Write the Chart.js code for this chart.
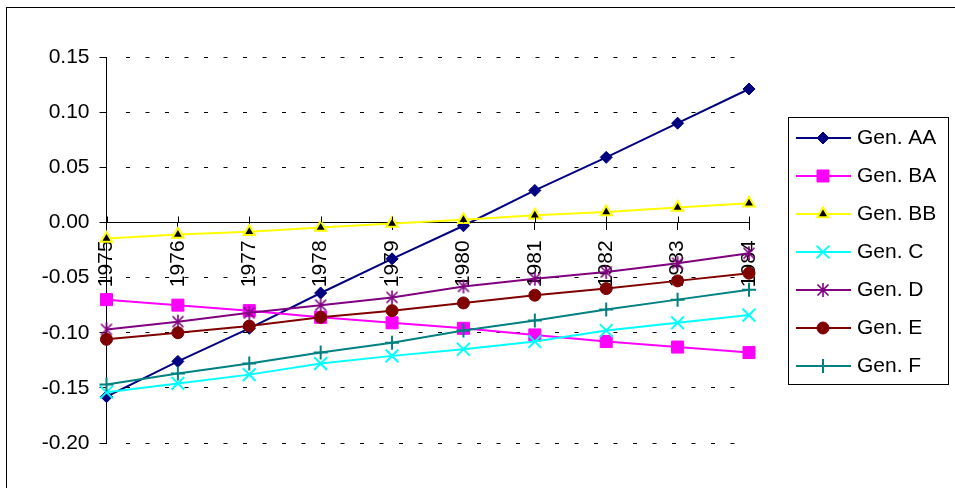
<!DOCTYPE html>
<html><head><meta charset="utf-8">
<script src="https://cdn.jsdelivr.net/npm/chart.js@4.4.1/dist/chart.umd.min.js"></script>
<style>html,body{margin:0;padding:0;background:#fff;overflow:hidden}#wrap{position:relative;width:955px;height:488px}</style>
</head><body><div id="wrap"><canvas id="c"></canvas></div>
<script>
const years = ['1975','1976','1977','1978','1979','1980','1981','1982','1983','1984'];
const seriesNames = ['Gen. AA','Gen. BA','Gen. BB','Gen. C','Gen. D','Gen. E','Gen. F'];
const genAA = [-0.158,-0.126,-0.096,-0.064,-0.033,-0.003,0.029,0.059,0.090,0.121];
const genBA = [-0.070,-0.075,-0.080,-0.086,-0.091,-0.096,-0.102,-0.108,-0.113,-0.118];
const genBB = [-0.0145,-0.011,-0.0085,-0.0045,-0.001,0.0025,0.0065,0.0095,0.0135,0.0175];
const genC  = [-0.154,-0.146,-0.138,-0.128,-0.121,-0.115,-0.108,-0.098,-0.091,-0.084];
const genD  = [-0.097,-0.090,-0.082,-0.075,-0.068,-0.058,-0.051,-0.045,-0.037,-0.028];
const genE  = [-0.106,-0.100,-0.094,-0.086,-0.080,-0.073,-0.066,-0.060,-0.053,-0.046];
const genF  = [-0.147,-0.137,-0.128,-0.118,-0.109,-0.098,-0.089,-0.079,-0.070,-0.061];
const yTickValues = [-0.20,-0.15,-0.10,-0.05,0.00,0.05,0.10,0.15];
const yTickLabels = ['-0.20','-0.15','-0.10','-0.05','0.00','0.05','0.10','0.15'];

const FONT = "'Liberation Sans', Arial, sans-serif";
const FS = 21;

function makeStar(color){
  const c=document.createElement('canvas'); c.width=16; c.height=16;
  const x=c.getContext('2d'); x.strokeStyle=color; x.lineWidth=1.6; x.lineCap='butt';
  x.beginPath();
  x.moveTo(2.5,2.5); x.lineTo(13.5,13.5);
  x.moveTo(13.5,2.5); x.lineTo(2.5,13.5);
  x.moveTo(8,1); x.lineTo(8,15);
  x.stroke(); return c;
}

const styles = [
  {color:'#000080', pointStyle:'rectRot', radius:6, bg:'#000080', bc:'#000080', bw:1},
  {color:'#FF00FF', pointStyle:'rect', radius:8.5, bg:'#FF00FF', bc:'#FF00FF', bw:1},
  {color:'#FFFF00', pointStyle:'triangle', radius:6.5, bg:'#000000', bc:'#FFFF00', bw:2},
  {color:'#00FFFF', pointStyle:'crossRot', radius:9, bg:'#00FFFF', bc:'#00FFFF', bw:2},
  {color:'#800080', pointStyle:makeStar('#800080'), radius:8, bg:'#800080', bc:'#800080', bw:1},
  {color:'#800000', pointStyle:'circle', radius:6, bg:'#800000', bc:'#800000', bw:1},
  {color:'#008080', pointStyle:'cross', radius:7, bg:'#008080', bc:'#008080', bw:2}
];
const seriesData = [genAA, genBA, genBB, genC, genD, genE, genF];

const datasets = seriesNames.map((name,i)=>({
  label:name, data:seriesData[i],
  borderColor:styles[i].color, borderWidth:2, backgroundColor:styles[i].bg,
  pointStyle:styles[i].pointStyle, pointRadius:styles[i].radius, pointHoverRadius:styles[i].radius,
  pointBackgroundColor:styles[i].bg, pointBorderColor:styles[i].bc, pointBorderWidth:styles[i].bw,
  tension:0, fill:false, clip:false, order: seriesNames.length - i
}));

const framePlugin = {
  id:'frame',
  beforeDraw(chart){
    const ctx=chart.ctx; ctx.save();
    ctx.fillStyle='#fff'; ctx.fillRect(0,0,chart.width,chart.height);
    ctx.strokeStyle='#000'; ctx.lineWidth=1;
    ctx.strokeRect(6.5,7.5,2000,2000);
    ctx.restore();
  },
  afterDraw(chart){
    const ctx=chart.ctx; const xs=chart.scales.x; const ys=chart.scales.y;
    const y0=Math.round(ys.getPixelForValue(0))+0.5;
    ctx.save(); ctx.strokeStyle='#000'; ctx.lineWidth=1;
    ctx.beginPath();
    for(let i=0;i<xs.ticks.length;i++){ const px=Math.round(xs.getPixelForTick(i))+0.5; ctx.moveTo(px,y0-6); ctx.lineTo(px,y0); }
    ctx.stroke();
    ctx.strokeStyle='#000'; ctx.lineWidth=1; ctx.strokeRect(788.5,117.5,160,267);
    chart.data.datasets.forEach((ds,i)=>{
      const y=138+i*38;
      ctx.strokeStyle=ds.borderColor; ctx.lineWidth=ds.borderWidth;
      ctx.beginPath(); ctx.moveTo(796,y); ctx.lineTo(851,y); ctx.stroke();
      ctx.fillStyle=ds.pointBackgroundColor; ctx.strokeStyle=ds.pointBorderColor; ctx.lineWidth=ds.pointBorderWidth;
      Chart.helpers.drawPoint(ctx,{pointStyle:ds.pointStyle,radius:ds.pointRadius,rotation:0,borderWidth:ds.pointBorderWidth},823,y);
      ctx.fillStyle='#000'; ctx.font=FS+'px '+FONT; ctx.textBaseline='middle'; ctx.textAlign='left';
      ctx.fillText(ds.label,857,y);
    });
    ctx.restore();
  }
};

new Chart(document.getElementById('c'),{
  type:'line',
  data:{labels:years, datasets},
  plugins:[framePlugin],
  options:{
    responsive:true, maintainAspectRatio:false, animation:false,
    layout:{padding:{top:57,bottom:45,left:0,right:206}},
    plugins:{legend:{display:false}, tooltip:{enabled:false}},
    scales:{
      x:{
        type:'category', position:{y:0}, offset:false,
        grid:{display:true, drawOnChartArea:false, drawTicks:true, tickLength:7, color:'#000', tickColor:'#000'},
        border:{display:true, color:'#000', width:1},
        ticks:{autoSkip:false, minRotation:90, maxRotation:90, padding:11, color:'#000', font:{family:FONT, size:FS}}
      },
      y:{
        min:-0.2, max:0.15,
        afterBuildTicks(scale){ scale.ticks = yTickValues.map(v=>({value:v})); },
        afterFit(scale){ scale.width = 106.5; },
        ticks:{color:'#000', padding:10, font:{family:FONT, size:FS}, callback:(v,i)=>yTickLabels[i]},
        grid:{
          drawTicks:true, tickLength:7, tickColor:'#000', lineWidth:1,
          color:(c)=>{
            const ch=c.chart, a=ch.chartArea; if(!a) return '#000';
            const g=ch.ctx.createLinearGradient(a.left,0,a.right,0);
            const f=12/(a.right-a.left);
            g.addColorStop(0,'rgba(0,0,0,0)'); g.addColorStop(f,'rgba(0,0,0,0)');
            g.addColorStop(f,'#000'); g.addColorStop(1,'#000'); return g;
          }
        },
        border:{display:true, color:'#000', width:1, dash:[4,15.5], dashOffset:0.5}
      }
    }
  }
});
</script></body></html>
